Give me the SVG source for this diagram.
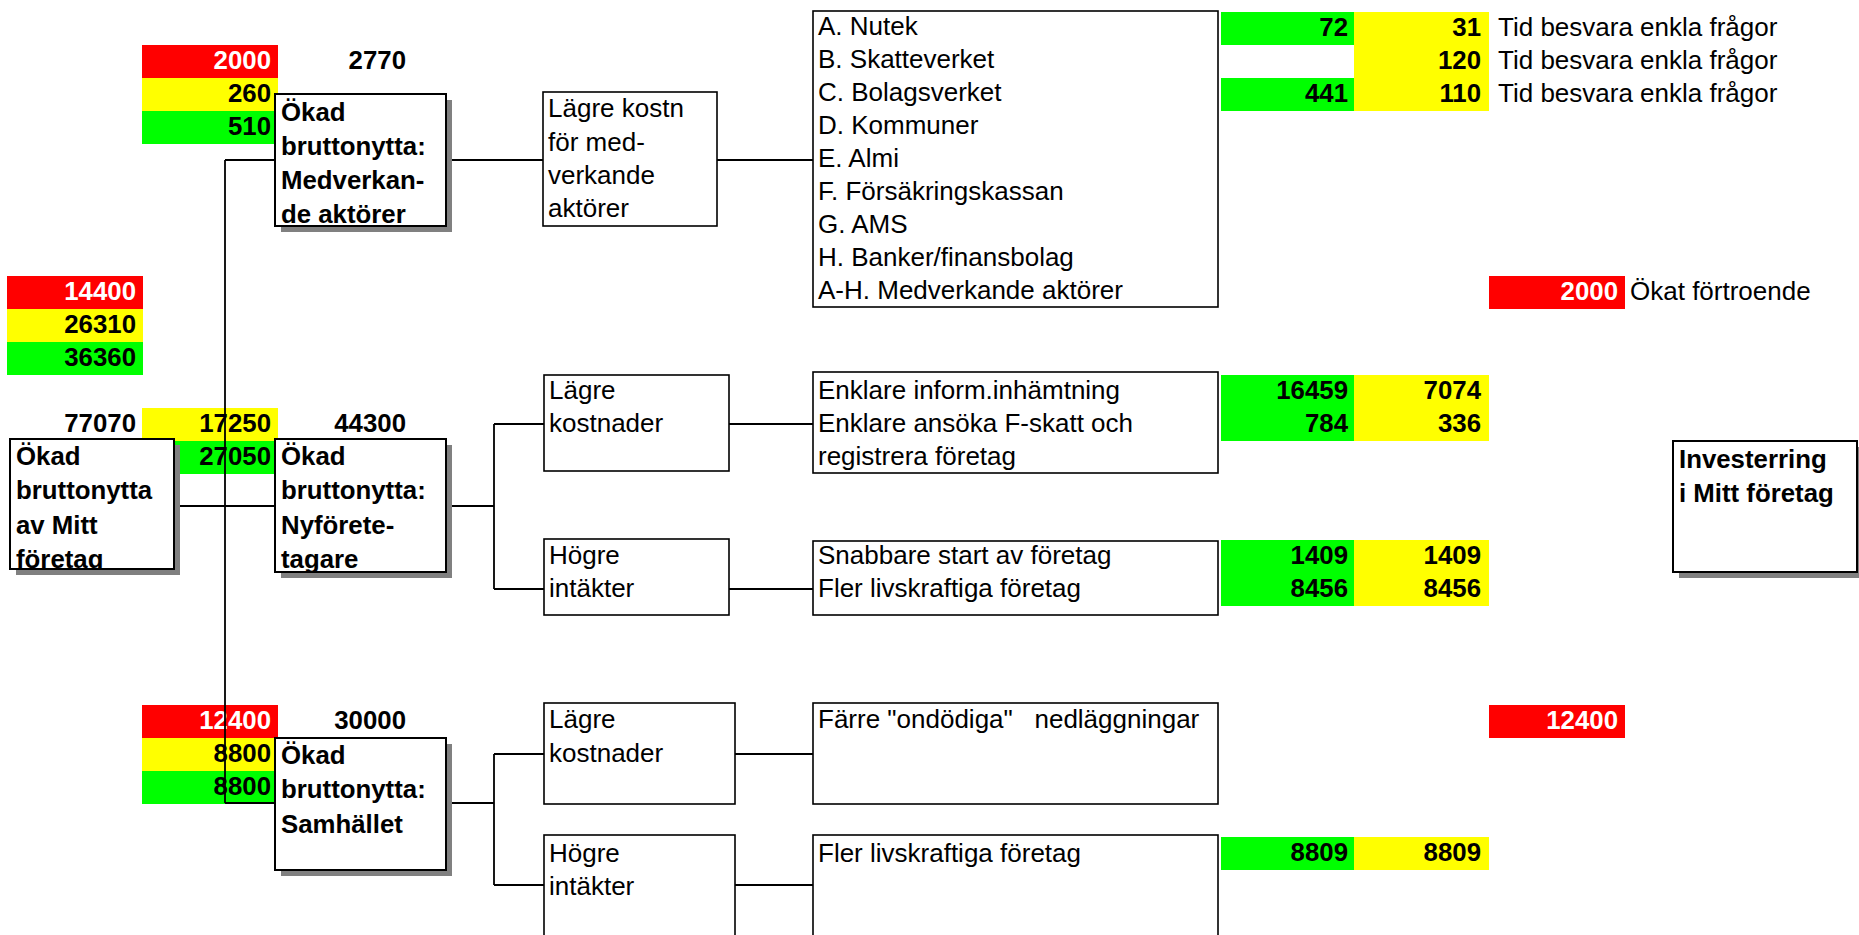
<svg xmlns="http://www.w3.org/2000/svg" width="1859" height="935" viewBox="0 0 1859 935">
<style>
text{font-family:"Liberation Sans",Arial,Helvetica,sans-serif;font-size:26px;fill:#000}
.b{font-weight:bold;font-size:25.8px}
.w{fill:#fff}
.e{text-anchor:end}
.box{fill:#fff;stroke:#000;stroke-width:2}
.pbox{fill:#fff;stroke:#000;stroke-width:1.6}
.sh{fill:#808080}
.red{fill:#f00}.yel{fill:#ff0}.grn{fill:#0f0}
.conn{stroke:#000;stroke-width:1.8;fill:none}
</style>
<defs>
<clipPath id="cMed"><rect x="276" y="95" width="169" height="130"/></clipPath>
<clipPath id="cMitt"><rect x="11" y="440" width="162" height="128"/></clipPath>
<clipPath id="cNy"><rect x="276" y="440" width="169" height="131"/></clipPath>
</defs>
<rect width="1859" height="935" fill="#fff"/>

<g id="cells">
<rect class="red" x="142" y="45" width="136" height="33"/>
<rect class="yel" x="142" y="78" width="136" height="33"/>
<rect class="grn" x="142" y="111" width="136" height="33"/>
<rect class="red" x="7" y="276" width="136" height="33"/>
<rect class="yel" x="7" y="309" width="136" height="33"/>
<rect class="grn" x="7" y="342" width="136" height="33"/>
<rect class="yel" x="142" y="408" width="136" height="33"/>
<rect class="grn" x="142" y="441" width="136" height="33"/>
<rect class="red" x="142" y="705" width="136" height="33"/>
<rect class="yel" x="142" y="738" width="136" height="33"/>
<rect class="grn" x="142" y="771" width="136" height="33"/>
<rect class="grn" x="1221" y="12" width="133" height="33"/>
<rect class="yel" x="1354" y="12" width="135" height="99"/>
<rect class="grn" x="1221" y="78" width="133" height="33"/>
<rect class="red" x="1489" y="276" width="136" height="33"/>
<rect class="grn" x="1221" y="375" width="133" height="66"/>
<rect class="yel" x="1354" y="375" width="135" height="66"/>
<rect class="grn" x="1221" y="540" width="133" height="66"/>
<rect class="yel" x="1354" y="540" width="135" height="66"/>
<rect class="red" x="1489" y="705" width="136" height="33"/>
<rect class="grn" x="1221" y="837" width="133" height="33"/>
<rect class="yel" x="1354" y="837" width="135" height="33"/>
</g>

<g id="values">
<text class="b w e" x="271" y="69">2000</text>
<text class="b e" x="271" y="102">260</text>
<text class="b e" x="271" y="135">510</text>
<text class="b e" x="406" y="69">2770</text>
<text class="b w e" x="136" y="300">14400</text>
<text class="b e" x="136" y="333">26310</text>
<text class="b e" x="136" y="366">36360</text>
<text class="b e" x="136" y="432">77070</text>
<text class="b e" x="271" y="432">17250</text>
<text class="b e" x="271" y="465">27050</text>
<text class="b e" x="406" y="432">44300</text>
<text class="b w e" x="271" y="729">12400</text>
<text class="b e" x="271" y="762">8800</text>
<text class="b e" x="271" y="795">8800</text>
<text class="b e" x="406" y="729">30000</text>
<text class="b e" x="1348" y="36">72</text>
<text class="b e" x="1481" y="36">31</text>
<text x="1498" y="36">Tid besvara enkla frågor</text>
<text class="b e" x="1481" y="69">120</text>
<text x="1498" y="69">Tid besvara enkla frågor</text>
<text class="b e" x="1348" y="102">441</text>
<text class="b e" x="1481" y="102">110</text>
<text x="1498" y="102">Tid besvara enkla frågor</text>
<text class="b w e" x="1618" y="300">2000</text>
<text x="1630" y="300">Ökat förtroende</text>
<text class="b e" x="1348" y="399">16459</text>
<text class="b e" x="1481" y="399">7074</text>
<text class="b e" x="1348" y="432">784</text>
<text class="b e" x="1481" y="432">336</text>
<text class="b e" x="1348" y="564">1409</text>
<text class="b e" x="1481" y="564">1409</text>
<text class="b e" x="1348" y="597">8456</text>
<text class="b e" x="1481" y="597">8456</text>
<text class="b e" x="1348" y="861">8809</text>
<text class="b e" x="1481" y="861">8809</text>
<text class="b w e" x="1618" y="729">12400</text>
</g>

<g id="connectors">
<path class="conn" d="M225 160V803M225 160H275M225 803H275M174 506H275"/>
<path class="conn" d="M446 160H543M717 160H813"/>
<path class="conn" d="M446 506H494M494 424V589M494 424H544M494 589H544M729 424H813M729 589H813"/>
<path class="conn" d="M446 803H494M494 754V885M494 754H544M494 885H544M735 754H813M735 885H813"/>
</g>

<g id="node-mitt">
<rect class="sh" x="16" y="445" width="164" height="130"/>
<rect class="box" x="10" y="439" width="164" height="130"/>
<g clip-path="url(#cMitt)">
<text class="b" x="16" y="465">Ökad</text>
<text class="b" x="16" y="499">bruttonytta</text>
<text class="b" x="16" y="534">av Mitt</text>
<text class="b" x="16" y="568">företag</text>
</g>
</g>

<g id="node-medverkande">
<rect class="sh" x="281" y="100" width="171" height="132"/>
<rect class="box" x="275" y="94" width="171" height="132"/>
<g clip-path="url(#cMed)">
<text class="b" x="281" y="121">Ökad</text>
<text class="b" x="281" y="155">bruttonytta:</text>
<text class="b" x="281" y="189">Medverkan-</text>
<text class="b" x="281" y="223">de aktörer</text>
</g>
</g>

<g id="node-nyforetagare">
<rect class="sh" x="281" y="445" width="171" height="133"/>
<rect class="box" x="275" y="439" width="171" height="133"/>
<g clip-path="url(#cNy)">
<text class="b" x="281" y="465">Ökad</text>
<text class="b" x="281" y="499">bruttonytta:</text>
<text class="b" x="281" y="534">Nyförete-</text>
<text class="b" x="281" y="568">tagare</text>
</g>
</g>

<g id="node-samhallet">
<rect class="sh" x="281" y="744" width="171" height="132"/>
<rect class="box" x="275" y="738" width="171" height="132"/>
<text class="b" x="281" y="764">Ökad</text>
<text class="b" x="281" y="798">bruttonytta:</text>
<text class="b" x="281" y="833">Samhället</text>
</g>

<g id="node-lagre-kostn-med">
<rect class="pbox" x="543" y="92" width="174" height="134"/>
<text x="548" y="117">Lägre kostn</text>
<text x="548" y="151">för med-</text>
<text x="548" y="184">verkande</text>
<text x="548" y="217">aktörer</text>
</g>

<g id="node-aktorer">
<rect class="pbox" x="813" y="11" width="405" height="296"/>
<text x="818" y="35">A. Nutek</text>
<text x="818" y="68">B. Skatteverket</text>
<text x="818" y="101">C. Bolagsverket</text>
<text x="818" y="134">D. Kommuner</text>
<text x="818" y="167">E. Almi</text>
<text x="818" y="200">F. Försäkringskassan</text>
<text x="818" y="233">G. AMS</text>
<text x="818" y="266">H. Banker/finansbolag</text>
<text x="818" y="299">A-H. Medverkande aktörer</text>
</g>

<g id="node-lagre-ny">
<rect class="pbox" x="544" y="375" width="185" height="96"/>
<text x="549" y="399">Lägre</text>
<text x="549" y="432">kostnader</text>
</g>

<g id="node-hogre-ny">
<rect class="pbox" x="544" y="539" width="185" height="76"/>
<text x="549" y="564">Högre</text>
<text x="549" y="597">intäkter</text>
</g>

<g id="node-enklare">
<rect class="pbox" x="813" y="372" width="405" height="101"/>
<text x="818" y="399">Enklare inform.inhämtning</text>
<text x="818" y="432">Enklare ansöka F-skatt och</text>
<text x="818" y="465">registrera företag</text>
</g>

<g id="node-snabbare">
<rect class="pbox" x="813" y="541" width="405" height="74"/>
<text x="818" y="564">Snabbare start av företag</text>
<text x="818" y="597">Fler livskraftiga företag</text>
</g>

<g id="node-lagre-sam">
<rect class="pbox" x="544" y="703" width="191" height="101"/>
<text x="549" y="728">Lägre</text>
<text x="549" y="762">kostnader</text>
</g>

<g id="node-hogre-sam">
<rect class="pbox" x="544" y="835" width="191" height="120"/>
<text x="549" y="862">Högre</text>
<text x="549" y="895">intäkter</text>
</g>

<g id="node-farre">
<rect class="pbox" x="813" y="703" width="405" height="101"/>
<text x="818" y="728" xml:space="preserve">Färre "ondödiga"   nedläggningar</text>
</g>

<g id="node-fler">
<rect class="pbox" x="813" y="835" width="405" height="120"/>
<text x="818" y="862">Fler livskraftiga företag</text>
</g>

<g id="node-investering">
<rect class="sh" x="1679" y="447" width="184" height="131"/>
<rect class="box" x="1673" y="441" width="184" height="131"/>
<text class="b" x="1679" y="468">Investerring</text>
<text class="b" x="1679" y="502">i Mitt företag</text>
</g>
</svg>
